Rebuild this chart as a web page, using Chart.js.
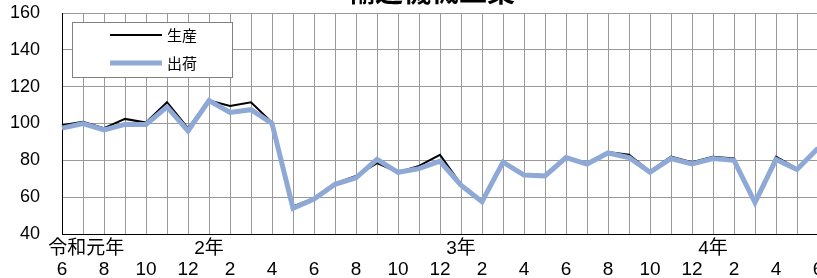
<!DOCTYPE html>
<html>
<head>
<meta charset="utf-8">
<script src="https://cdn.jsdelivr.net/npm/chart.js@4.4.1/dist/chart.umd.min.js"></script>
<style>
  html, body { margin: 0; padding: 0; background: #fff; overflow: hidden; width: 817px; height: 278px; }
  #wrap { position: relative; width: 817px; height: 278px; overflow: hidden; }
  #chart { position: absolute; left: 0; top: -22px; }
</style>
</head>
<body>
<div id="wrap"><canvas id="chart" width="826" height="302"></canvas></div>
<script>
// Chart data
const chartTitle = '輸送機械工業';
const months = [6, 7, 8, 9, 10, 11, 12, 1, 2, 3, 4, 5, 6, 7, 8, 9, 10, 11, 12,
                1, 2, 3, 4, 5, 6, 7, 8, 9, 10, 11, 12, 1, 2, 3, 4, 5, 6];
const yearMarks = { 0: '\u3000\u3000  令和元年', 7: '2年', 19: '3年', 31: '4年' };
const seriesNames = ['生産', '出荷'];
const production = [99, 101, 97.5, 102.5, 100.5, 111.5, 97.5, 112.5, 109.5, 111.5, 100.5, 55,
                    59.5, 67.5, 71.5, 78.5, 73.5, 77, 83, 67, 58, 79.5, 72.5, 72,
                    81.5, 78.5, 84.5, 83, 74, 82, 79, 82, 81, 57.5, 82, 75.5, 87];
const shipments = [97.5, 100, 96.5, 99.5, 99.5, 109, 96, 112.5, 106, 107.5, 100, 54,
                   59, 67, 70.5, 80.5, 73.5, 75.5, 79.5, 66.5, 57.5, 79, 72, 71.5,
                   81.5, 78, 84, 81.5, 73.5, 81, 78, 81, 80, 57, 80.5, 75, 86.5];
const yTicks = { min: 40, max: 160, step: 20 };

// two-line labels: year (only at start / January), month (even months only)
const labels = months.map((m, i) => [yearMarks[i] || '', m % 2 === 0 ? String(m) : '']);

Chart.defaults.font.family = "'Liberation Sans', 'Noto Sans CJK JP', sans-serif";
Chart.defaults.color = '#000';

// title drawn by hand, it sits partly above the picture
const titlePlugin = {
    id: 'titlePlugin',
    afterDraw(chart) {
        const ctx = chart.ctx;
        ctx.save();
        ctx.font = "bold 28px 'Noto Sans CJK JP', sans-serif";
        ctx.fillStyle = '#000';
        ctx.textAlign = 'center';
        ctx.textBaseline = 'alphabetic';
        ctx.fillText(chartTitle, 431, 24);
        ctx.restore();
    }
};

// boxed legend inside the plot, top left
const legendBox = {
    id: 'legendBox',
    afterDatasetsDraw(chart) {
        const ctx = chart.ctx;
        const area = chart.chartArea;
        const x = area.left + 10, y = area.top + 9, w = 160, h = 55;
        ctx.save();
        ctx.fillStyle = '#fff';
        ctx.fillRect(x, y, w, h);
        ctx.strokeStyle = '#808080';
        ctx.lineWidth = 1;
        ctx.strokeRect(x + 0.5, y + 0.5, w, h);
        ctx.font = "15px 'Noto Sans CJK JP', sans-serif";
        ctx.textBaseline = 'middle';
        ctx.textAlign = 'left';
        const rows = [seriesNames[0], seriesNames[1]];
        rows.forEach((name, k) => {
            const ds = chart.data.datasets.find(d => d.label === name);
            const ly = y + 13 + k * 28;
            ctx.strokeStyle = ds.borderColor;
            ctx.lineWidth = ds.borderWidth;
            ctx.beginPath();
            ctx.moveTo(x + 38, ly);
            ctx.lineTo(x + 90, ly);
            ctx.stroke();
            ctx.fillStyle = '#000';
            ctx.fillText(name, x + 95, ly);
        });
        ctx.restore();
    }
};

new Chart(document.getElementById('chart'), {
    type: 'line',
    data: {
        labels: labels,
        datasets: [
            {
                label: seriesNames[1],
                data: shipments,
                borderColor: '#8EA9D6',
                borderWidth: 5,
                pointRadius: 0,
                tension: 0,
                order: 0
            },
            {
                label: seriesNames[0],
                data: production,
                borderColor: '#000',
                borderWidth: 2,
                pointRadius: 0,
                tension: 0,
                order: 1
            }
        ]
    },
    options: {
        responsive: false,
        animation: false,
        devicePixelRatio: 1,
        layout: { padding: { top: 35, right: 8, left: 0, bottom: 0 } },
        plugins: {
            legend: { display: false },
            title: { display: false },
            tooltip: { enabled: false }
        },
        scales: {
            x: {
                offset: false,
                grid: { color: '#999', lineWidth: 1, drawTicks: false },
                border: { color: '#000', width: 1 },
                ticks: {
                    autoSkip: false,
                    maxRotation: 0,
                    minRotation: 0,
                    padding: 4,
                    font: { size: 19, lineHeight: 1.1 }
                },
                afterFit(s) {
                    s.height = 46;
                    s.paddingLeft = 0;
                    s.paddingRight = 0;
                }
            },
            y: {
                min: yTicks.min,
                max: yTicks.max,
                grid: { color: '#999', lineWidth: 1, drawTicks: false },
                border: { color: '#000', width: 1 },
                ticks: {
                    stepSize: yTicks.step,
                    padding: 22,
                    font: { size: 18 }
                },
                afterFit(s) {
                    s.width = 62;
                    s.paddingTop = 0;
                    s.paddingBottom = 0;
                }
            }
        }
    },
    plugins: [titlePlugin, legendBox]
});
</script>
</body>
</html>
